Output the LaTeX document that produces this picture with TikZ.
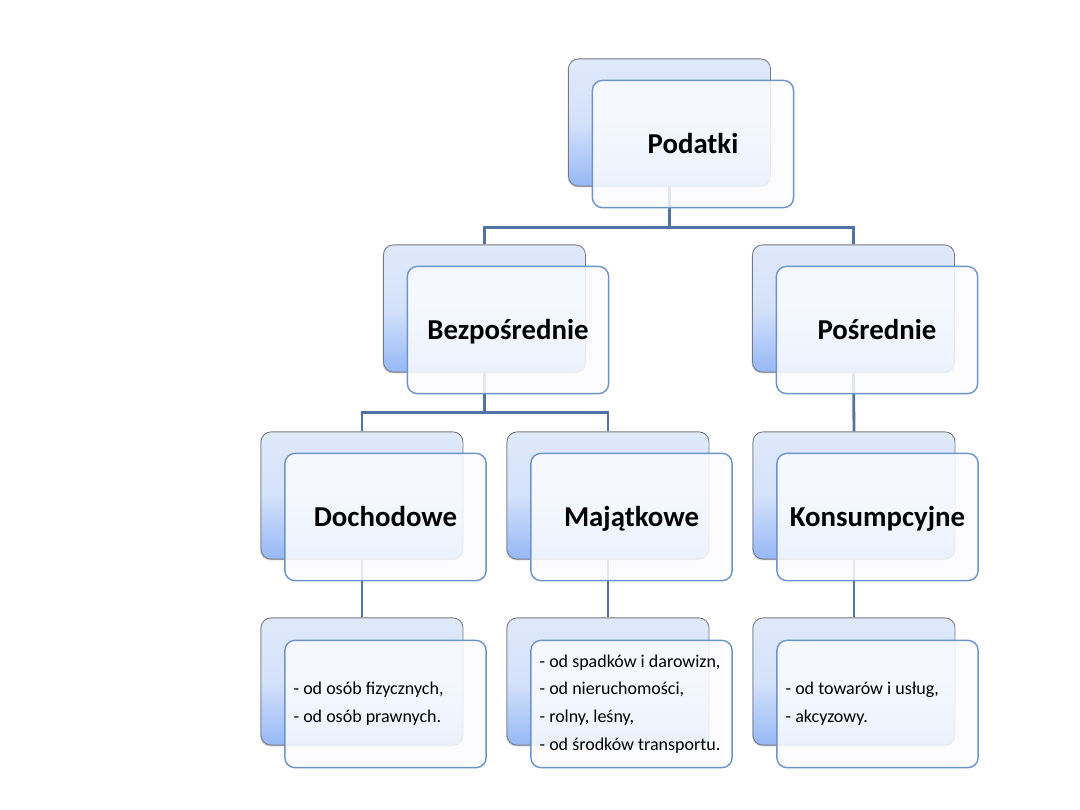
\documentclass[tikz,border=0pt]{standalone}
\usepackage{fontspec}
\setmainfont{Carlito}
\usetikzlibrary{positioning, shadows}

\definecolor{linkblue}{RGB}{79,115,168}
\definecolor{backtop}{RGB}{223,233,251}
\definecolor{backbot}{RGB}{150,184,246}
\definecolor{frontline}{RGB}{108,148,204}
\definecolor{backline}{RGB}{120,120,128}
\definecolor{frontfill}{RGB}{251,252,255}

\begin{document}
\begin{tikzpicture}[
  x=0.025cm, y=-0.025cm,
  back/.style={rectangle, rounded corners=0.25cm, draw=backline, line width=0.6pt,
    top color=backtop, bottom color=backbot, middle color=backtop!85!backbot,
    drop shadow={shadow xshift=-0.6pt, shadow yshift=-0.9pt, opacity=0.35},
    minimum width=5.05cm, minimum height=3.18cm},
  front/.style={rectangle, rounded corners=0.25cm, draw=frontline, line width=1pt,
    fill=frontfill, fill opacity=0.85, text opacity=1,
    minimum width=5.03cm, minimum height=3.18cm, align=center,
    text height=17pt, text depth=4pt,
    font=\fontsize{20.5}{24}\selectfont\bfseries},
  leaf/.style={front, align=flush left, inner xsep=0.22cm, text width=4.59cm,
    text height=, text depth=,
    font=\fontsize{12.8}{19.8}\selectfont},
  link/.style={draw=linkblue, line width=2pt}
]
\useasboundingbox (0,0) rectangle (1080,810);

% Back cards (blue gradient)
\node[back] (podatkiB) at (669.5,122.5) {};
\node[back] (bezpB) at (484.5,308.5) {};
\node[back] (posrB) at (853.5,308.5) {};
\node[back] (dochB) at (362,495.5) {};
\node[back] (majB) at (608,495.5) {};
\node[back] (konsB) at (854,495.5) {};
\node[back] (dochListB) at (362,681.5) {};
\node[back] (majListB) at (608,681.5) {};
\node[back] (konsListB) at (854,681.5) {};

% Connectors between levels
\draw[link] (podatkiB.south) -- ++(0,41) -| (bezpB.north);
\draw[link] (podatkiB.south) -- ++(0,41) -| (posrB.north);
\draw[link] (bezpB.south) -- ++(0,40) -| (dochB.north);
\draw[link] (bezpB.south) -- ++(0,40) -| (majB.north);
\draw[link] (posrB.south) -- (konsB.north);
\draw[link] (dochB.south) -- (dochListB.north);
\draw[link] (majB.south) -- (majListB.north);
\draw[link] (konsB.south) -- (konsListB.north);

% Front cards with the labels
\node[front] (podatki) at ([shift={(23.5,21.5)}]podatkiB) {Podatki};
\node[front] (bezp) at ([shift={(23.5,21.5)}]bezpB) {Bezpośrednie};
\node[front] (posr) at ([shift={(23.5,21.5)}]posrB) {Pośrednie};
\node[front] (doch) at ([shift={(23.5,21.5)}]dochB) {Dochodowe};
\node[front] (maj) at ([shift={(23.5,21.5)}]majB) {Majątkowe};
\node[front] (kons) at ([shift={(23.5,21.5)}]konsB) {Konsumpcyjne};
\node[leaf] (dochList) at ([shift={(23.5,22.5)}]dochListB)
  {- od osób fizycznych,\\- od osób prawnych.};
\node[leaf] (majList) at ([shift={(23.5,22.5)}]majListB)
  {- od spadków i darowizn,\\- od nieruchomości,\\- rolny, leśny,\\- od środków transportu.};
\node[leaf] (konsList) at ([shift={(23.5,22.5)}]konsListB)
  {- od towarów i usług,\\- akcyzowy.};

\end{tikzpicture}
\end{document}
